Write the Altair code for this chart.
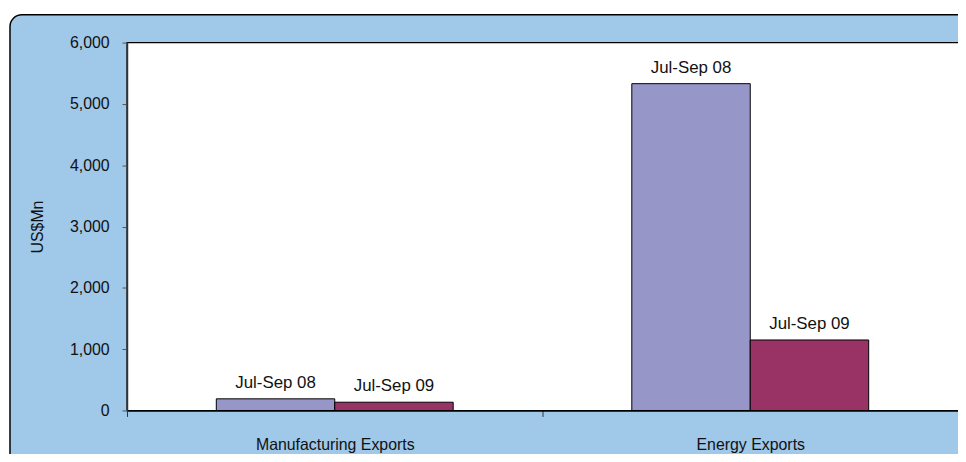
import altair as alt
import pandas as pd

categories = ["Manufacturing Exports", "Energy Exports"]
periods = ["Jul-Sep 08", "Jul-Sep 09"]
manufacturing = [190, 135]
energy = [5330, 1150]
y_ticks = [0, 1000, 2000, 3000, 4000, 5000, 6000]

rows = []
for cat, vals in zip(categories, [manufacturing, energy]):
    for p, v in zip(periods, vals):
        rows.append({"category": cat, "period": p, "value": v})
df = pd.DataFrame(rows)

W, H = 838, 371
FONT = "Liberation Sans"
BLUE = "#9fc8e9"

deco = pd.DataFrame({"k": [0]})

panel = alt.Chart(deco).mark_rect(
    fill=BLUE, stroke="black", strokeWidth=1.5, cornerRadius=12, clip=False
).encode(
    x=alt.value(-118), x2=alt.value(W + 40),
    y=alt.value(-28), y2=alt.value(H + 80)
)

plot_bg = alt.Chart(deco).mark_rect(
    fill="white", stroke="black", strokeWidth=1.2
).encode(
    x=alt.value(0), x2=alt.value(W + 20),
    y=alt.value(0), y2=alt.value(H)
)

x_enc = alt.X(
    "category:N", sort=categories,
    scale=alt.Scale(paddingInner=0, paddingOuter=0),
    axis=alt.Axis(
        title=None, labelAngle=0, labelFont=FONT, labelFontSize=16,
        labelColor="#111111", labelPadding=20, tickBand="extent",
        tickSize=6, tickColor="#333333", domainColor="black",
        domainWidth=1.5, zindex=2
    )
)
xoff = alt.XOffset("period:N", sort=periods,
                   scale=alt.Scale(paddingInner=0, paddingOuter=0.754))
y_enc = alt.Y(
    "value:Q",
    scale=alt.Scale(domain=[0, 6000], nice=False),
    axis=alt.Axis(
        values=y_ticks, format=",d", title="US$Mn", titleFont=FONT,
        titleFontSize=16, titleFontWeight="normal", titleColor="#111111",
        titlePadding=24, labelFont=FONT, labelFontSize=16,
        labelColor="#111111", labelPadding=13, tickSize=5,
        tickColor="#555555", domainColor="#333333", domainWidth=1.5,
        grid=False, zindex=2
    )
)
color_enc = alt.Color(
    "period:N", sort=periods,
    scale=alt.Scale(domain=periods, range=["#9696c8", "#993366"]),
    legend=None
)

bars = alt.Chart(df).mark_bar(stroke="black", strokeWidth=1).encode(
    x=x_enc, xOffset=xoff, y=y_enc, color=color_enc
)

labels = alt.Chart(df).mark_text(
    baseline="bottom", dy=-7, font=FONT, fontSize=17, color="#111111"
).encode(
    x=alt.X("category:N", sort=categories),
    xOffset=alt.XOffset("period:N", sort=periods),
    y="value:Q",
    text="period:N"
)

chart = alt.layer(panel, plot_bg, bars, labels).properties(
    width=W, height=H,
    autosize=alt.AutoSizeParams(type="none"),
    padding={"left": 120, "top": 33, "right": 0, "bottom": 42},
    background="white"
).configure_view(stroke=None)

chart.save("out.html", embed_options={"renderer": "svg", "actions": False})
